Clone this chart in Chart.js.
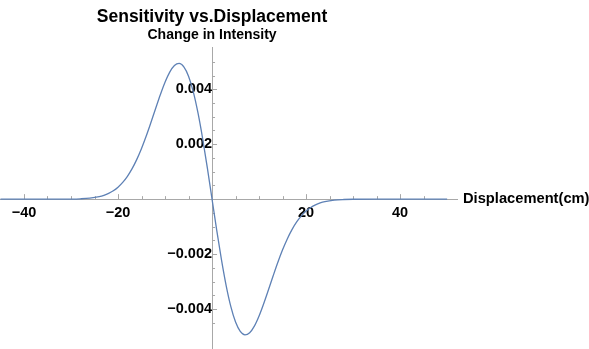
<!DOCTYPE html>
<html>
<head>
<meta charset="utf-8">
<script src="https://cdn.jsdelivr.net/npm/chart.js@4"></script>
<style>
html, body { margin: 0; padding: 0; background: #fff; }
#wrap { width: 589px; height: 349px; position: relative; }
</style>
</head>
<body>
<div id="wrap"><canvas id="graf"></canvas></div>
<script>
// values
const displacement = [-45, -40, -35, -30, -28, -26, -24, -23, -22, -21, -20, -19, -18, -17, -16, -15, -14, -13, -12, -11, -10, -9, -8, -7, -6, -5, -4, -3, -2, -1,
  0, 1, 2, 3, 4, 5, 6, 7, 8, 9, 10, 11, 12, 13, 14, 15, 16, 17, 18, 19, 20, 21, 22, 23, 24, 26, 28, 30, 35, 40, 45, 50]
const intensityChange = [0, 0, 0, 0.000004, 0.000013, 0.000036, 0.000091, 0.000139, 0.000208, 0.000303, 0.000434, 0.000608, 0.00083, 0.001109, 0.001448, 0.001846, 0.002298, 0.00279, 0.003299, 0.003799, 0.004254, 0.004623, 0.004864, 0.004939, 0.004815, 0.004476, 0.003915, 0.003147, 0.002205, 0.001136,
  0, -0.001136, -0.002205, -0.003147, -0.003915, -0.004476, -0.004815, -0.004939, -0.004864, -0.004623, -0.004254, -0.003799, -0.003299, -0.00279, -0.002298, -0.001846, -0.001448, -0.001109, -0.00083, -0.000608, -0.000434, -0.000303, -0.000208, -0.000139, -0.000091, -0.000036, -0.000013, -0.000004, 0, 0, 0, 0]
const xTickLabels = [-40, -20, 20, 40]
const yTickLabels = [-0.004, -0.002, 0.002, 0.004]
const titleText = 'Sensitivity vs.Displacement'
const yAxisText = 'Change in Intensity'
const xAxisText = 'Displacement(cm)'

const axisColor = '#a8a8a8'
const lineColor = '#5e81b5'
const font = 'Liberation Sans, Arial, sans-serif'

function isLabelled(list, v) {
  return list.some(t => Math.abs(t - v) < 1e-9)
}
function fmt(v, digits) {
  const s = Math.abs(v).toFixed(digits)
  return v < 0 ? '\u2212' + s : s
}

// minor/major tick marks drawn on the inside of the crossing axes
const tickMarks = {
  id: 'tickMarks',
  beforeDatasetsDraw(chart) {
    const {ctx, scales: {x, y}} = chart
    const x0 = x.getPixelForValue(0)
    const y0 = y.getPixelForValue(0)
    ctx.save()
    ctx.strokeStyle = axisColor
    ctx.lineWidth = 1
    x.ticks.forEach(t => {
      if (Math.abs(t.value / 5 - Math.round(t.value / 5)) > 1e-6 || t.value === 0) return
      const px = Math.round(x.getPixelForValue(t.value)) + 0.5
      const len = isLabelled(xTickLabels, t.value) ? 5 : 3
      ctx.beginPath(); ctx.moveTo(px, y0); ctx.lineTo(px, y0 - len); ctx.stroke()
    })
    y.ticks.forEach(t => {
      const k = t.value / 0.0005
      if (Math.abs(k - Math.round(k)) > 1e-6 || Math.round(k) === 0) return
      const py = Math.round(y.getPixelForValue(t.value)) + 0.5
      const len = isLabelled(yTickLabels, t.value) ? 5 : 3
      ctx.beginPath(); ctx.moveTo(x0, py); ctx.lineTo(x0 + len, py); ctx.stroke()
    })
    ctx.restore()
  },
  afterDraw(chart) {
    const {ctx, scales: {x, y}} = chart
    const x0 = x.getPixelForValue(0)
    const y0 = y.getPixelForValue(0)
    ctx.save()
    ctx.fillStyle = '#000'
    ctx.textAlign = 'center'
    ctx.textBaseline = 'alphabetic'
    ctx.font = 'bold 17.5px ' + font
    ctx.fillText(titleText, x0, 22)
    ctx.font = 'bold 14px ' + font
    ctx.fillText(yAxisText, x0, 39)
    ctx.font = 'bold 14.7px ' + font
    ctx.textAlign = 'left'
    ctx.textBaseline = 'middle'
    ctx.fillText(xAxisText, chart.chartArea.right + 6, y0)
    ctx.restore()
  }
}

new Chart(document.getElementById('graf'), {
  type: 'line',
  data: {
    datasets: [{
      data: displacement.map((d, i) => ({x: d, y: intensityChange[i]})),
      borderColor: lineColor,
      borderWidth: 1.3,
      pointRadius: 0,
      fill: false,
      cubicInterpolationMode: 'monotone'
    }]
  },
  options: {
    responsive: true,
    maintainAspectRatio: false,
    animation: false,
    layout: {padding: {top: 47, right: 132, left: 0, bottom: 0}},
    plugins: {legend: {display: false}, tooltip: {enabled: false}},
    scales: {
      x: {
        type: 'linear',
        min: -45.1,
        max: 52.1,
        position: {y: 0},
        grid: {display: false, drawTicks: false},
        border: {display: true, color: axisColor, width: 1},
        ticks: {
          stepSize: 5,
          autoSkip: false,
          maxRotation: 0,
          padding: 5,
          color: '#000',
          font: {family: font, size: 14.5, weight: 'bold'},
          callback: v => isLabelled(xTickLabels, v) ? fmt(v, 0) : ''
        },
        afterFit(scale) { scale.paddingLeft = 0; scale.paddingRight = 0 }
      },
      y: {
        type: 'linear',
        min: -0.005455,
        max: 0.005538,
        position: {x: 0},
        grid: {display: false, drawTicks: false},
        border: {display: true, color: axisColor, width: 1},
        ticks: {
          stepSize: 0.0005,
          autoSkip: false,
          padding: 4,
          color: '#000',
          font: {family: font, size: 14.5, weight: 'bold'},
          callback: v => isLabelled(yTickLabels, v) ? fmt(v, 3) : ''
        },
        afterFit(scale) { scale.paddingTop = 0; scale.paddingBottom = 0 }
      }
    }
  },
  plugins: [tickMarks]
})
</script>
</body>
</html>
